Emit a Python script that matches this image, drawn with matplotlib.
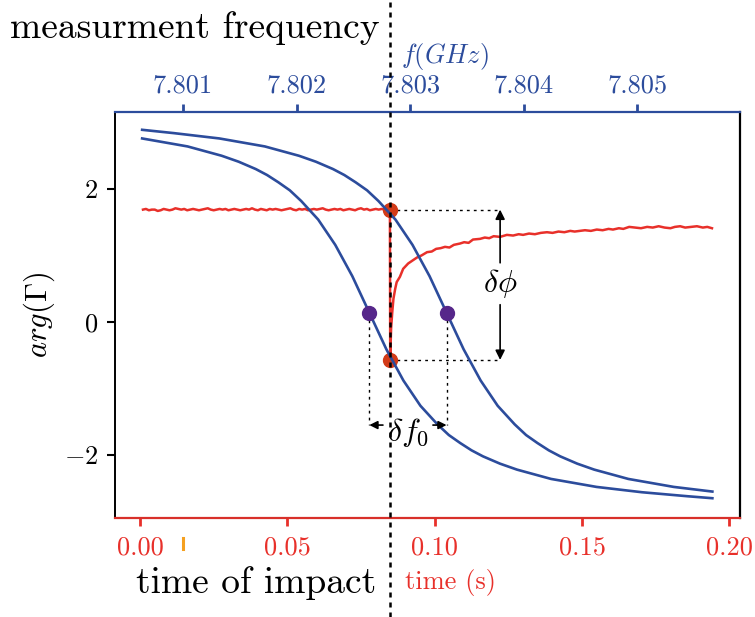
import matplotlib
matplotlib.use("Agg")
import matplotlib.pyplot as plt
import matplotlib.transforms as mtransforms
from matplotlib.lines import Line2D
import numpy as np

plt.rcParams['font.family'] = ['cmr10', 'DejaVu Serif']
plt.rcParams['mathtext.fontset'] = 'cm'
plt.rcParams['axes.formatter.use_mathtext'] = True
plt.rcParams['axes.unicode_minus'] = False

BLUE = '#2c4c9c'
RED = '#e8302a'
DOTRED = '#d23a18'
PURPLE = '#56278a'

# --- resonance curves (frequency axis, GHz) ---
freq_a = [7.80064, 7.80104, 7.80134, 7.80149, 7.80164, 7.80174, 7.80184, 7.80194,
          7.80204, 7.80219, 7.80234, 7.80249, 7.80264, 7.80279, 7.80294, 7.80309,
          7.80324, 7.80334, 7.80344, 7.80354, 7.80364, 7.80379, 7.80394, 7.80424,
          7.80464, 7.80504, 7.80544, 7.80566]
phase_a = [2.76, 2.64, 2.50, 2.41, 2.30, 2.21, 2.10, 1.98,
           1.82, 1.54, 1.16, 0.69, 0.14, -0.41, -0.88, -1.26,
           -1.54, -1.70, -1.82, -1.93, -2.02, -2.13, -2.22, -2.36,
           -2.48, -2.56, -2.62, -2.65]

freq_b = [7.80064, 7.80092, 7.80132, 7.80172, 7.80202, 7.80217, 7.80232, 7.80242,
          7.80252, 7.80262, 7.80272, 7.80287, 7.80302, 7.80317, 7.80332, 7.80347,
          7.80362, 7.80377, 7.80392, 7.80402, 7.80412, 7.80422, 7.80432, 7.80447,
          7.80462, 7.80492, 7.80532, 7.80566]
phase_b = [2.89, 2.84, 2.76, 2.64, 2.50, 2.41, 2.30, 2.21,
           2.10, 1.98, 1.82, 1.54, 1.16, 0.69, 0.14, -0.41,
           -0.88, -1.26, -1.54, -1.70, -1.82, -1.93, -2.02, -2.13,
           -2.22, -2.36, -2.48, -2.55]

# --- measured phase vs time (s) ---
t_before = [round(0.001 * k, 3) for k in range(1, 85)]
phase_before = [1.69, 1.70, 1.68, 1.69, 1.69, 1.67, 1.68, 1.70, 1.69, 1.68,
                1.69, 1.71, 1.70, 1.69, 1.70, 1.68, 1.69, 1.70, 1.69, 1.68,
                1.69, 1.70, 1.71, 1.69, 1.68, 1.69, 1.70, 1.69, 1.70, 1.68,
                1.69, 1.70, 1.69, 1.68, 1.69, 1.70, 1.69, 1.71, 1.69, 1.68,
                1.70, 1.69, 1.68, 1.70, 1.69, 1.70, 1.69, 1.68, 1.69, 1.70,
                1.71, 1.69, 1.68, 1.70, 1.69, 1.70, 1.68, 1.69, 1.70, 1.69,
                1.70, 1.71, 1.69, 1.68, 1.69, 1.70, 1.69, 1.70, 1.68, 1.69,
                1.70, 1.69, 1.68, 1.70, 1.71, 1.69, 1.70, 1.68, 1.69, 1.70,
                1.69, 1.70, 1.69, 1.69]
t_after = [0.0848, 0.0849, 0.0852, 0.0856, 0.0860, 0.0866, 0.0871, 0.0882, 0.0893, 0.0910,
           0.0927, 0.0940, 0.0955, 0.0974, 0.0990, 0.1005, 0.1020, 0.1035, 0.1050, 0.1065,
           0.1086, 0.1100, 0.1115, 0.1130, 0.1154, 0.1170, 0.1185, 0.1200, 0.1222, 0.1245,
           0.1266, 0.1285, 0.1300, 0.1320, 0.1340, 0.1360, 0.1381, 0.1400, 0.1420, 0.1440,
           0.1460, 0.1475, 0.1493, 0.1510, 0.1530, 0.1550, 0.1570, 0.1590, 0.1605, 0.1625,
           0.1640, 0.1660, 0.1680, 0.1700, 0.1721, 0.1740, 0.1760, 0.1780, 0.1800, 0.1815,
           0.1833, 0.1850, 0.1870, 0.1890, 0.1910, 0.1925, 0.1941]
phase_after = [1.69, -0.57, -0.10, 0.15, 0.35, 0.50, 0.60, 0.68, 0.80, 0.88,
               0.93, 0.97, 1.00, 1.05, 1.06, 1.10, 1.11, 1.13, 1.12, 1.16,
               1.18, 1.20, 1.19, 1.24, 1.25, 1.27, 1.26, 1.29, 1.28, 1.31,
               1.30, 1.32, 1.31, 1.33, 1.32, 1.34, 1.35, 1.34, 1.36, 1.35,
               1.37, 1.36, 1.37, 1.38, 1.37, 1.39, 1.38, 1.40, 1.39, 1.41,
               1.40, 1.43, 1.42, 1.41, 1.43, 1.42, 1.44, 1.42, 1.41, 1.43,
               1.44, 1.42, 1.43, 1.44, 1.42, 1.43, 1.41]

t_impact = 0.0848
phi_before = 1.69
phi_after = -0.57
f_left, f_right, phi_mid = 7.80264, 7.80332, 0.14

time_ticks = [0.00, 0.05, 0.10, 0.15, 0.20]
freq_ticks = [7.801, 7.802, 7.803, 7.804, 7.805]
phase_ticks = [-2, 0, 2]

fig = plt.figure(figsize=(7.55, 6.17), dpi=100)
ax = fig.add_axes([0.1523, 0.1605, 0.8278, 0.6580])
ax2 = ax.twiny()

# red time trace
ax.plot(t_before + t_after, phase_before + phase_after, color=RED, lw=1.8, zorder=3)
ax.plot([t_impact, t_impact], [phi_before, phi_after], 'o', color=DOTRED, ms=10, zorder=4)

# delta phi construction
ax.plot([t_impact, 0.1222], [phi_before, phi_before], color='k', lw=1, ls=(0, (2, 3)))
ax.plot([t_impact, 0.1222], [phi_after, phi_after], color='k', lw=1, ls=(0, (2, 3)))
ax.annotate('', xy=(0.1222, phi_before), xytext=(0.1222, 0.89),
            arrowprops=dict(arrowstyle='-|>', color='k', lw=1.2, shrinkA=0, shrinkB=0, mutation_scale=14))
ax.annotate('', xy=(0.1222, phi_after), xytext=(0.1222, 0.26),
            arrowprops=dict(arrowstyle='-|>', color='k', lw=1.2, shrinkA=0, shrinkB=0, mutation_scale=14))
ax.text(0.1222, 0.58, r'$\delta\phi$', fontsize=23, ha='center', va='center')

ax.set_xlim(-0.0085, 0.2036)
ax.set_ylim(-2.947, 3.158)

# blue resonance curves
ax2.plot(freq_a, phase_a, color=BLUE, lw=1.9, zorder=3)
ax2.plot(freq_b, phase_b, color=BLUE, lw=1.9, zorder=3)
ax2.plot([f_left, f_right], [phi_mid, phi_mid], 'o', color=PURPLE, ms=10, zorder=4)
ax2.plot([f_left, f_left], [phi_mid, -1.55], color='k', lw=1, ls=(0, (2, 3)))
ax2.plot([f_right, f_right], [phi_mid, -1.55], color='k', lw=1, ls=(0, (2, 3)))
ax2.annotate('', xy=(f_left, -1.55), xytext=(7.80276, -1.55),
             arrowprops=dict(arrowstyle='-|>', color='k', lw=1.2, shrinkA=0, shrinkB=0, mutation_scale=12))
ax2.annotate('', xy=(f_right, -1.55), xytext=(7.80320, -1.55),
             arrowprops=dict(arrowstyle='-|>', color='k', lw=1.2, shrinkA=0, shrinkB=0, mutation_scale=12))
ax2.text(7.80298, -1.66, r'$\delta f_0$', fontsize=23, ha='center', va='center')
ax2.set_xlim(7.800401, 7.805903)

# axes styling
ax.set_xticks(time_ticks, ['%.2f' % v for v in time_ticks])
ax.set_yticks(phase_ticks, [r'$-2$', r'$0$', r'$2$'])
ax2.set_xticks(freq_ticks, ['%.3f' % v for v in freq_ticks])

ax.tick_params(axis='x', colors=RED, labelsize=19, length=6, width=2, pad=7)
ax.tick_params(axis='y', colors='k', labelsize=19, length=6, width=1.5, pad=6)
ax2.tick_params(axis='x', colors=BLUE, labelsize=19, length=6, width=2, pad=4.5)

ax.spines['bottom'].set_color('#d8302a')
ax.spines['bottom'].set_linewidth(1.6)
ax.spines['left'].set_linewidth(1.4)
ax.spines['right'].set_linewidth(1.6)
ax.spines['top'].set_visible(False)
for s in ['bottom', 'left', 'right']:
    ax2.spines[s].set_visible(False)
ax2.spines['top'].set_color(BLUE)
ax2.spines['top'].set_linewidth(1.6)

ax.set_ylabel(r'$arg(\Gamma)$', fontsize=22, labelpad=5)

# impact time dashed line across the whole figure
trans = mtransforms.blended_transform_factory(ax.transData, fig.transFigure)
fig.add_artist(Line2D([t_impact, t_impact], [0, 1], transform=trans, color='k', lw=1.8, ls=(0, (2, 2))))

fig.text(10 / 755, 1 - 28 / 617, 'measurment frequency', fontsize=27, ha='left', va='center')
fig.text(445 / 755, 1 - 57 / 617, r'$f(GHz)$', fontsize=19, color=BLUE, ha='center', va='center')
fig.text(376 / 755, 1 - 583 / 617, 'time of impact', fontsize=27, ha='right', va='center')
fig.text(405 / 755, 1 - 583 / 617, 'time (s)', fontsize=19, color=RED, ha='left', va='center')
fig.add_artist(Line2D([183 / 755, 183 / 755], [1 - 538 / 617, 1 - 549 / 617], color='#f5a020', lw=2.2))

fig.savefig('out.png', dpi=100)
